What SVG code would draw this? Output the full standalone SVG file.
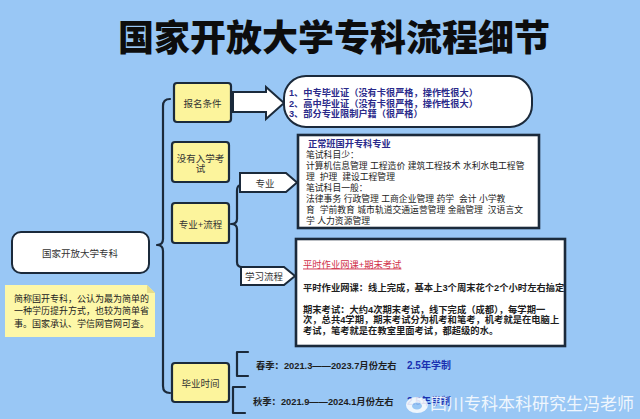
<svg xmlns="http://www.w3.org/2000/svg" width="640" height="419" viewBox="0 0 640 419">
<style>
text{font-family:'Liberation Sans','Noto Sans CJK SC',sans-serif;white-space:pre;}
.ybox{fill:#fcf49c;stroke:#1b2a3b;stroke-width:2.2;}
.wbox{fill:#ffffff;stroke:#1b2a3b;stroke-width:2;}
.big{fill:#ffffff;stroke:#1b2a3b;stroke-width:2.6;}
.lbl{font-size:9.5px;fill:#333333;text-anchor:middle;}
.line{fill:none;stroke:#1b2a3b;stroke-width:2.2;stroke-linecap:round;stroke-linejoin:round;}
.t9{font-size:9px;fill:#222222;}
.t8{font-size:8.8px;fill:#222222;}
.tb{font-size:9.3px;fill:#1e1e1e;font-weight:bold;}
.ind{font-size:9.2px;fill:#2a2a8a;font-weight:bold;}
</style>
<rect x="0" y="0" width="640" height="419" fill="#99c7f5"/>
<text x="334" y="51" font-size="36" font-weight="900" fill="#0d0d0d" text-anchor="middle">国家开放大学专科流程细节</text>

<g id="connectors">
  <path class="line" d="M170,99 Q163,99 163,106 L163,239 Q163,245 157,245 Q163,245 163,251 L163,386 Q163,393 170,393"/>
  <path class="line" d="M241,185 Q237,185 237,191 L237,219 Q237,224 231,224 Q237,224 237,229 L237,262 Q237,267 242,267"/>
  <polygon class="wbox" points="233,92 266,92 266,87 284,103 266,119 266,112 233,112"/>
  <path class="line" stroke-width="2.6" d="M248,352 L237,352 L237,376 L248,376"/>
  <path class="line" stroke-width="2.6" d="M245,387 L233,387 L233,413 L245,413"/>
</g>

<g id="node-main">
  <rect class="wbox" x="12" y="232" width="137" height="41" rx="9"/>
  <text class="lbl" x="80" y="256.5">国家开放大学专科</text>
</g>

<g id="node-note">
  <polygon points="5,285 147,285 155,293 155,337 5,337" fill="#fdf7a8"/>
  <polygon points="147,285 147,293 155,293" fill="#e6dc8a"/>
  <text class="t9" x="14" y="301.5">简称国开专科，公认为最为简单的</text>
  <text class="t9" x="14" y="314">一种学历提升方式，也较为简单省</text>
  <text class="t9" x="14" y="326.5">事。国家承认、学信网官网可查。</text>
</g>

<g id="node-baoming">
  <rect class="ybox" x="174" y="83" width="57" height="39" rx="3"/>
  <text class="lbl" x="202.5" y="106.5">报名条件</text>
</g>

<g id="node-conditions">
  <rect class="wbox" x="284" y="76" width="248" height="51" rx="22"/>
  <text class="ind" x="289" y="96">1、中专毕业证（没有卡很严格，操作性很大）</text>
  <text class="ind" x="289" y="106.5">2、高中毕业证（没有卡很严格，操作性很大）</text>
  <text class="ind" x="289" y="117">3、部分专业限制户籍（很严格）</text>
</g>

<g id="node-noexam">
  <rect class="ybox" x="172" y="142" width="57" height="40" rx="3"/>
  <text class="lbl" x="200.5" y="161.5">没有入学考</text>
  <text class="lbl" x="200.5" y="172">试</text>
</g>

<g id="node-zhuanye-liucheng">
  <rect class="ybox" x="172" y="203" width="57" height="40" rx="3"/>
  <text class="lbl" x="200.5" y="227.5">专业+流程</text>
</g>

<g id="node-zhuanye">
  <polygon class="wbox" points="240,173 286,173 297,182.5 286,192 240,192"/>
  <text class="lbl" x="265" y="186.5">专业</text>
</g>

<g id="node-majors">
  <rect class="big" x="298" y="135" width="241" height="93"/>
  <text class="ind" x="308" y="146.5">正常班国开专科专业</text>
  <text class="t8" x="306" y="157.5">笔试科目少：</text>
  <text class="t8" x="306" y="168.5">计算机信息管理 工程造价 建筑工程技术 水利水电工程管</text>
  <text class="t8" x="306" y="179.5">理  护理  建设工程管理</text>
  <text class="t8" x="306" y="190.5">笔试科目一般：</text>
  <text class="t8" x="306" y="201.5">法律事务 行政管理 工商企业管理 药学  会计 小学教</text>
  <text class="t8" x="306" y="212.5">育  学前教育 城市轨道交通运营管理 金融管理  汉语言文</text>
  <text class="t8" x="306" y="223.5">学 人力资源管理</text>
</g>

<g id="node-xuexi">
  <polygon class="wbox" points="241,267 284,267 295,276 284,285 241,285"/>
  <text class="lbl" x="264" y="280">学习流程</text>
</g>

<g id="node-process">
  <rect class="big" x="296" y="239" width="269" height="107"/>
  <text x="303" y="267.5" font-size="9.3" fill="#d0304a" text-decoration="underline">平时作业网课+期末考试</text>
  <text class="tb" x="303" y="290.5">平时作业网课：线上完成，基本上3个周末花个2个小时左右搞定</text>
  <text class="tb" x="303" y="312.5">期末考试：大约4次期末考试，线下完成（成都），每学期一</text>
  <text class="tb" x="303" y="323">次，总共4学期，期末考试分为机考和笔考，机考就是在电脑上</text>
  <text class="tb" x="303" y="333.5">考试，笔考就是在教室里面考试，都超级的水。</text>
</g>

<g id="node-biye">
  <rect class="ybox" x="172" y="363" width="57" height="39" rx="3"/>
  <text class="lbl" x="200.5" y="386.5">毕业时间</text>
</g>

<g id="node-dates">
  <text class="tb" x="256" y="368.5" font-size="9.5" fill="#1a2540">春季：2021.3——2023.7月份左右</text>
  <text x="407" y="368.5" font-size="10" font-weight="bold" fill="#1a30b0">2.5年学制</text>
  <text class="tb" x="253" y="404.5" font-size="9.5" fill="#1a2540">秋季：2021.9——2024.1月份左右</text>
  <text x="407" y="404.5" font-size="10" font-weight="bold" fill="#1a30b0">2.5年学制</text>
</g>

<g id="watermark" opacity="0.85">
  <ellipse cx="417" cy="405" rx="11" ry="8" fill="#ffffff"/>
  <ellipse cx="417" cy="406" rx="5" ry="3.5" fill="#99c7f5"/>
  <text x="430" y="409.5" font-size="17" fill="#ffffff">四川专科本科研究生冯老师</text>
</g>
</svg>
